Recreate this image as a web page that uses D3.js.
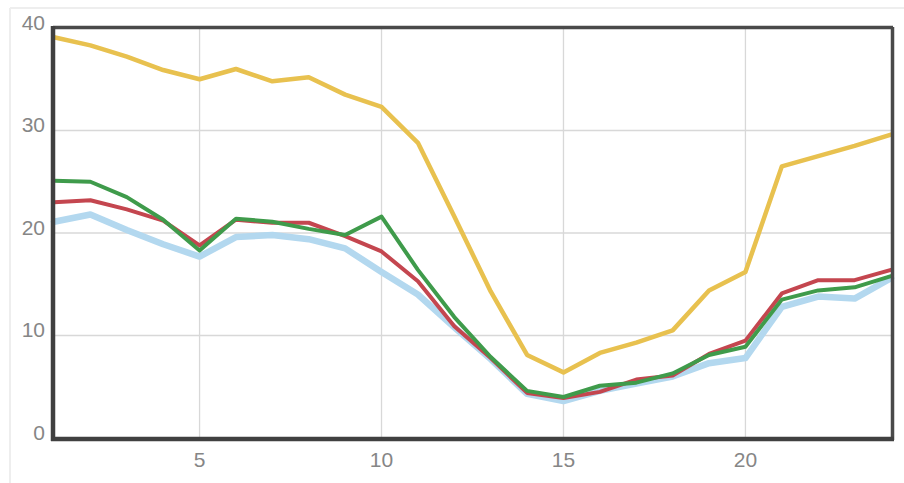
<!DOCTYPE html>
<html>
<head>
<meta charset="utf-8">
<script src="https://cdn.jsdelivr.net/npm/d3@7"></script>
<style>
html,body{margin:0;padding:0;background:#fff;}
svg{display:block;}
</style>
</head>
<body>
<svg id="chart" width="904" height="483"></svg>
<script>
const hours = d3.range(1, 25);
const yellowSeries = [39.1,38.3,37.2,35.9,35.0,36.0,34.8,35.2,33.5,32.3,28.8,21.6,14.3,8.1,6.4,8.3,9.3,10.5,14.4,16.2,26.5,27.5,28.5,29.6];
const redSeries    = [23.0,23.2,22.3,21.2,18.8,21.3,21.0,21.0,19.7,18.2,15.3,10.9,7.8,4.4,3.9,4.5,5.7,6.1,8.2,9.5,14.1,15.4,15.4,16.4];
const greenSeries  = [25.1,25.0,23.5,21.3,18.3,21.4,21.1,20.4,19.8,21.6,16.4,11.8,7.9,4.6,4.0,5.1,5.4,6.3,8.1,8.9,13.5,14.4,14.7,15.8];
const blueSeries   = [21.1,21.8,20.3,18.9,17.7,19.6,19.8,19.4,18.5,16.2,14.0,10.8,7.7,4.3,3.6,4.6,5.3,6.0,7.3,7.8,12.8,13.8,13.6,15.6];
const yTicks = [0,10,20,30,40];
const xTicks = [5,10,15,20];

const svg = d3.select("#chart");
const x = d3.scaleLinear().domain([1,24]).range([54,891]);
const y = d3.scaleLinear().domain([0,40]).range([438,28]);

// outer light container frame
svg.append("line").attr("x1",10).attr("x2",904).attr("y1",8).attr("y2",8).attr("stroke","#eeeeee").attr("stroke-width",2);
svg.append("line").attr("x1",10).attr("x2",10).attr("y1",8).attr("y2",483).attr("stroke","#eeeeee").attr("stroke-width",2);

// grid
const g = svg.append("g");
g.selectAll("line.h").data(yTicks).join("line")
  .attr("x1",53).attr("x2",892).attr("y1",d=>y(d)).attr("y2",d=>y(d))
  .attr("stroke","#d8d8d8").attr("stroke-width",1.3);
g.selectAll("line.v").data(xTicks).join("line")
  .attr("x1",d=>x(d)).attr("x2",d=>x(d)).attr("y1",27).attr("y2",439)
  .attr("stroke","#d8d8d8").attr("stroke-width",1.3);

// lines
const line = d3.line().x((d,i)=>x(hours[i])).y(d=>y(d));
const series = [
  {v: blueSeries, c:"#b3d8ef", w:6.5},
  {v: yellowSeries, c:"#e8c14f", w:4.5},
  {v: redSeries, c:"#c4464f", w:4},
  {v: greenSeries, c:"#3f9b4b", w:4}
];
svg.selectAll("path.s").data(series).join("path")
  .attr("d",d=>line(d.v)).attr("fill","none")
  .attr("stroke",d=>d.c).attr("stroke-width",d=>d.w)
  .attr("stroke-linejoin","round").attr("stroke-linecap","round");

// frame
svg.append("line").attr("x1",53).attr("x2",893).attr("y1",27.5).attr("y2",27.5).attr("stroke","#4a4a4a").attr("stroke-width",3.5);
svg.append("line").attr("x1",892.5).attr("x2",892.5).attr("y1",27).attr("y2",440).attr("stroke","#4a4a4a").attr("stroke-width",3.5);
svg.append("line").attr("x1",53).attr("x2",53).attr("y1",26).attr("y2",441).attr("stroke","#404040").attr("stroke-width",4.5);
svg.append("line").attr("x1",51).attr("x2",894).attr("y1",439).attr("y2",439).attr("stroke","#404040").attr("stroke-width",4.5);

// labels
const font = "'Liberation Sans', Arial, Helvetica, sans-serif";
svg.selectAll("text.y").data(yTicks).join("text")
  .attr("x",45).attr("y",d=>y(d)-4).attr("text-anchor","end").attr("dominant-baseline","middle")
  .attr("font-family",font).attr("font-size",21).attr("fill","#868686").text(d=>d);
svg.selectAll("text.x").data(xTicks).join("text")
  .attr("x",d=>x(d)).attr("y",461).attr("text-anchor","middle").attr("dominant-baseline","middle")
  .attr("font-family",font).attr("font-size",21).attr("fill","#868686").text(d=>d);
</script>
</body>
</html>
